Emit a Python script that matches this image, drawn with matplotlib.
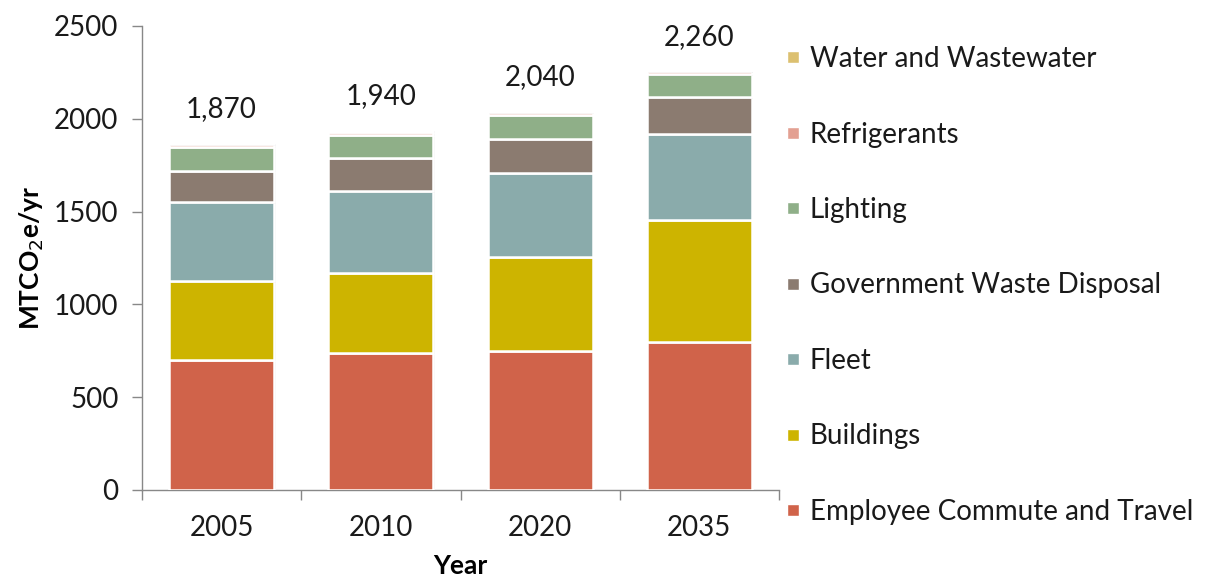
import matplotlib
matplotlib.use("Agg")
import matplotlib.pyplot as plt
import matplotlib.patheffects as pe
from matplotlib.lines import Line2D
import numpy as np

years = ["2005", "2010", "2020", "2035"]
series_names = ["Employee Commute and Travel", "Buildings", "Fleet",
                "Government Waste Disposal", "Lighting", "Refrigerants",
                "Water and Wastewater"]
commute = [700, 740, 750, 795]
buildings = [425, 430, 505, 660]
fleet = [425, 440, 455, 465]
gov_waste = [170, 180, 180, 195]
lighting = [130, 125, 130, 125]
refrigerants = [12, 15, 15, 15]
water = [8, 10, 5, 5]
totals = [1870, 1940, 2040, 2260]
total_labels = ["1,870", "1,940", "2,040", "2,260"]
y_ticks = [0, 500, 1000, 1500, 2000, 2500]

colors = ["#D0634A", "#CDB400", "#8AABAB", "#8B7B70", "#8FAF88", "#E3A092", "#DCC070"]

plt.rcParams['font.family'] = ['Lato', 'DejaVu Sans']
txt = "#1a1a1a"

fig = plt.figure(figsize=(12.08, 5.82), dpi=100)
ax = fig.add_axes([142/1208, 1 - 490/582, (779-142)/1208, (490-26)/582])

x = np.arange(len(years))
data = [commute, buildings, fleet, gov_waste, lighting, refrigerants, water]
bottom = np.zeros(len(years))
shadow = [pe.SimplePatchShadow(offset=(1, -1), shadow_rgbFace="#aaaaaa", alpha=0.25), pe.Normal()]
for vals, name, c in zip(data, series_names, colors):
    bars = ax.bar(x, vals, bottom=bottom, width=0.66, color=c, edgecolor="white",
                  linewidth=1.8, label=name, zorder=3)
    for b in bars:
        b.set_path_effects(shadow)
    bottom += np.array(vals)

for xi, t, lab in zip(x, totals, total_labels):
    ax.annotate(lab, (xi, t), xytext=(0, 15), textcoords="offset points",
                ha="center", va="bottom", fontsize=20, color=txt)

ax.set_xlim(-0.5, 3.5)
ax.set_ylim(0, 2500)
ax.set_yticks(y_ticks)
ax.set_yticklabels([str(v) for v in y_ticks], fontsize=20, color=txt)
ax.set_xticks(x)
ax.set_xticklabels(years, fontsize=20, color=txt)
ax.set_xticks(np.arange(-0.5, 4.0, 1.0), minor=True)
ax.tick_params(axis="x", which="major", length=0, pad=18)
ax.tick_params(axis="x", which="minor", length=7, color="#888888", width=1)
ax.tick_params(axis="y", which="major", length=7, color="#888888", width=1, pad=10)
for s in ["top", "right"]:
    ax.spines[s].set_visible(False)
for s in ["left", "bottom"]:
    ax.spines[s].set_color("#888888")
    ax.spines[s].set_linewidth(1)

ax.set_ylabel("MTCO$_2$e/yr", fontsize=19, fontweight="bold", labelpad=6)
ax.set_xlabel("Year", fontsize=19, fontweight="bold", labelpad=9)

handles = [Line2D([0], [0], marker="s", linestyle="none", markersize=8,
                  markerfacecolor=c, markeredgecolor="white")
           for c in colors]
leg = fig.legend(handles[::-1], series_names[::-1], loc="upper left",
                 bbox_to_anchor=(768/1208, 1 - 35/582), frameon=False,
                 fontsize=20, labelspacing=1.78, handletextpad=0.1,
                 handlelength=1.0, borderaxespad=0)
for t in leg.get_texts():
    t.set_color(txt)

fig.savefig("out.png", dpi=100)
